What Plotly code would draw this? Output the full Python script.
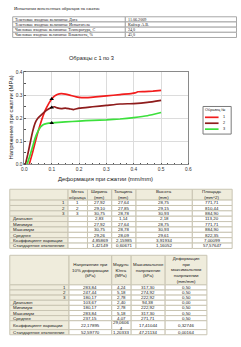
import plotly.graph_objects as go

W, H = 241, 347

# ---------------- data ----------------
report_title = "Испытания вспененных образцов на сжатие"
info_labels = [
    "Текстовые входные величины: Дата",
    "Текстовые входные величины: Испытатель",
    "Числовые входные величины: Температура, С",
    "Числовые входные величины: Влажность, %",
]
info_values = ["11.06.2009", "Кайзер А.В.", "24,0", "45,0"]

chart_title = "Образцы с 1 по 3"
x_title = "Деформация при сжатии (mm/mm)"
y_title = "Напряжение при сжатии (MPa)"
legend_title = "Образец №"
sample_names = ["1", "2", "3"]
sample_colors = ["#F21D1D", "#8E1C1C", "#3CE03C"]

strain_1 = [0.018, 0.03, 0.045, 0.06, 0.075, 0.09, 0.10, 0.11, 0.12, 0.135, 0.15, 0.17,
            0.19, 0.21, 0.23, 0.26, 0.30, 0.35, 0.39, 0.405, 0.415, 0.44, 0.47, 0.50]
stress_1 = [0.0, 0.05, 0.12, 0.18, 0.23, 0.265, 0.283, 0.295, 0.302, 0.306, 0.304, 0.298,
            0.292, 0.289, 0.289, 0.292, 0.296, 0.302, 0.306, 0.309, 0.314, 0.315, 0.317, 0.320]
strain_2 = [0.004, 0.012, 0.02, 0.03, 0.04, 0.05, 0.06, 0.075, 0.09, 0.10, 0.11, 0.12,
            0.135, 0.15, 0.165, 0.18, 0.20, 0.25, 0.30, 0.35, 0.40, 0.45, 0.50]
stress_2 = [0.0, 0.04, 0.085, 0.14, 0.18, 0.20, 0.212, 0.228, 0.24, 0.246, 0.249, 0.244,
            0.241, 0.243, 0.240, 0.237, 0.243, 0.249, 0.255, 0.261, 0.263, 0.268, 0.277]
strain_3 = [0.01, 0.02, 0.03, 0.04, 0.05, 0.06, 0.07, 0.08, 0.09, 0.10, 0.15, 0.20,
            0.25, 0.30, 0.35, 0.40, 0.45, 0.50]
stress_3 = [0.0, 0.035, 0.075, 0.115, 0.143, 0.162, 0.172, 0.176, 0.178, 0.179, 0.183, 0.187,
            0.190, 0.192, 0.196, 0.202, 0.210, 0.224]
marker_strain = [0.1, 0.1, 0.1]
marker_stress = [0.283, 0.246, 0.179]

x_ticks = [0.0, 0.1, 0.2, 0.3, 0.4, 0.5, 0.6]
x_tick_labels = ["0.0", "0.1", "0.2", "0.3", "0.4", "0.5", "0.6"]
y_ticks = [0.0, 0.1, 0.2, 0.3, 0.4]
y_tick_labels = ["0.0", "0.1", "0.2", "0.3", "0.4"]

row_labels = ["1", "2", "3", "Диапазон", "Минимум", "Максимум", "Среднее",
              "Коэффициент вариации", "Стандартное отклонение"]

dim_headers = ["", "Метка<br>образца", "Ширина<br>(mm)", "Толщина<br>(mm)",
               "Высота<br>(mm)", "Площадь<br>(mm^2)"]
dim_mark = ["1", "2", "3", "", "", "", "", "", ""]
dim_width = ["27,92", "29,10", "30,75", "2,83", "27,92", "30,75", "29,26", "4,85869", "1,42149"]
dim_thick = ["27,64", "27,85", "28,78", "1,14", "27,64", "28,78", "28,09", "2,15985", "0,60671"]
dim_height = ["28,75", "29,15", "30,93", "2,18", "28,75", "30,93", "29,61", "3,91934", "1,16052"]
dim_area = ["771,71", "810,44", "884,90", "113,20", "771,71", "884,90", "822,35", "7,00099", "57,57647"]

res_headers = ["", "Напряжение при<br>10% деформации<br>(kPa)", "Модуль<br>Юнга<br>(MPa)",
               "Максимальное<br>напряжение<br>(kPa)",
               "Деформация<br>при<br>максимальном<br>напряжении<br>(mm/mm)"]
res_stress10 = ["283,84", "247,44", "180,17", "103,67", "180,17", "283,84", "237,15", "22,17895", "52,59770"]
res_modulus = ["4,24", "5,18", "2,78", "2,40", "2,78", "5,18", "4,07", "29,0606<br>4", "1,20333"]
res_maxstress = ["317,30", "274,92", "222,92", "94,38", "222,92", "317,30", "271,71", "17,41044", "47,21134"]
res_strainmax = ["0,50", "0,50", "0,50", "0,00", "0,50", "0,50", "0,50", "0,32746", "0,00164"]

# ---------------- styling helpers ----------------
SANS = "Liberation Sans"
SERIF = "Liberation Serif"
BEIGE = "#EFECDC"
GRID_LINE = "#C9C5B3"
TXT = "#1A1A1A"

shapes = []
annotations = []


def rect(x0, x1, y0, y1, fill, line, width=1):
    shapes.append(dict(type="rect", xref="paper", yref="paper",
                       x0=x0 / W, x1=x1 / W, y0=1 - y1 / H, y1=1 - y0 / H,
                       fillcolor=fill, line=dict(color=line, width=width)))


def hline(x0, x1, y, color, width):
    shapes.append(dict(type="line", xref="paper", yref="paper",
                       x0=x0 / W, x1=x1 / W, y0=1 - y / H, y1=1 - y / H,
                       line=dict(color=color, width=width)))


def text(x, y, s, size, family=SANS, anchor="center", color=TXT, angle=0):
    annotations.append(dict(xref="paper", yref="paper", x=x / W, y=1 - y / H, text=s,
                            showarrow=False, xanchor=anchor, yanchor="middle",
                            font=dict(size=size, family=family, color=color),
                            textangle=angle, borderpad=0))


# ---------------- top info table ----------------
text(10, 7, report_title, 4.6, SERIF, "left")
t1_x = [10, 126, 240.5]
t1_top, t1_h = 15, 5.25
for i, (lab, val) in enumerate(zip(info_labels, info_values)):
    y0 = t1_top + i * t1_h
    rect(t1_x[0], t1_x[1], y0, y0 + t1_h, "white", "#A8A8A8")
    rect(t1_x[1], t1_x[2], y0, y0 + t1_h, "white", "#A8A8A8")
    text(t1_x[0] + 1.5, y0 + t1_h / 2, lab, 4.1, SERIF, "left")
    text(t1_x[1] + 1.5, y0 + t1_h / 2, val, 4.1, SERIF, "left")


# ---------------- generic stats table ----------------
def stats_table(x_edges, top, header_h, row_hs, headers, columns, font_size=4.4):
    # header
    for c in range(len(headers)):
        rect(x_edges[c], x_edges[c + 1], top, top + header_h, BEIGE, GRID_LINE)
        text((x_edges[c] + x_edges[c + 1]) / 2, top + header_h / 2, headers[c], font_size)
    y = top + header_h
    for r, rh in enumerate(row_hs):
        for c in range(len(headers)):
            fill = BEIGE if c == 0 else "white"
            rect(x_edges[c], x_edges[c + 1], y, y + rh, fill, GRID_LINE)
        lab = row_labels[r]
        if lab.isdigit():
            text(x_edges[1] - 2, y + rh / 2, lab, font_size, anchor="right")
        else:
            text(x_edges[0] + 2, y + rh / 2, lab, font_size, anchor="left")
        for c, col in enumerate(columns, start=1):
            if col[r]:
                text((x_edges[c] + x_edges[c + 1]) / 2, y + rh / 2, col[r], font_size)
        y += rh


stats_table([7, 67, 87, 112, 137, 195, 236], 190, 11, [5.45] * 9, dim_headers,
            [dim_mark, dim_width, dim_thick, dim_height, dim_area])
stats_table([7, 68, 112, 132, 167, 210], 257, 30, [5.2] * 7 + [9, 5.2], res_headers,
            [res_stress10, res_modulus, res_maxstress, res_strainmax])

# ---------------- chart ----------------
fig = go.Figure()
series = [(strain_1, stress_1), (strain_2, stress_2), (strain_3, stress_3)]
for (xs, ys), name, col in zip(series, sample_names, sample_colors):
    fig.add_trace(go.Scatter(x=xs, y=ys, mode="lines", name=name,
                             line=dict(color=col, width=1.7, shape="spline", smoothing=0.5),
                             showlegend=False, hoverinfo="skip"))
fig.add_trace(go.Scatter(x=marker_strain, y=marker_stress, mode="markers",
                         marker=dict(symbol="triangle-up", size=4, color="black"),
                         showlegend=False, hoverinfo="skip"))

text(91, 57, chart_title, 5.6)
text(106, 180, x_title, 5.9)
text(8, 117.5, y_title, 5.9, angle=-90)

# manual legend
rect(206, 235, 106, 134, "white", "#7A7A7A")
text(207.5, 109.5, legend_title, 3.8, anchor="left")
for i, (name, col) in enumerate(zip(sample_names, sample_colors)):
    yy = 117 + i * 6
    hline(208, 222, yy, col, 1.7)
    text(228, yy, name, 3.8)

axis_common = dict(showgrid=True, gridcolor="#DCDCDC", gridwidth=1, showline=True,
                   linecolor="#8A8A8A", linewidth=1, mirror=True, zeroline=False,
                   ticks="", tickfont=dict(size=4.8, family=SANS, color="#333333"))
fig.update_layout(
    width=W, height=H, autosize=False,
    margin=dict(l=0, r=0, t=0, b=0, pad=0),
    paper_bgcolor="white", plot_bgcolor="white",
    showlegend=False,
    xaxis=dict(domain=[22 / W, 191 / W], range=[0, 0.6], tickvals=x_ticks,
               ticktext=x_tick_labels,
               minor=dict(dtick=0.025, ticks="inside", ticklen=1.5, tickcolor="#555555"),
               **axis_common),
    yaxis=dict(domain=[1 - 164.5 / H, 1 - 71 / H], range=[0, 0.4], tickvals=y_ticks,
               ticktext=y_tick_labels,
               minor=dict(dtick=0.05, ticks="inside", ticklen=1.5, tickcolor="#555555"),
               **axis_common),
    shapes=shapes,
    annotations=annotations,
)

fig.write_html("out.html")
